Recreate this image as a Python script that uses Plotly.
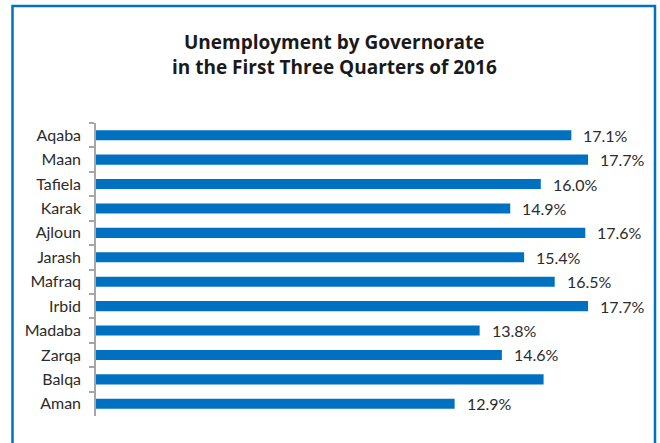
import plotly.graph_objects as go

# Unemployment rate (%) by governorate, first three quarters of 2016
governorates = ["Aqaba", "Maan", "Tafiela", "Karak", "Ajloun", "Jarash",
                "Mafraq", "Irbid", "Madaba", "Zarqa", "Balqa", "Aman"]
rates = [17.1, 17.7, 16.0, 14.9, 17.6, 15.4, 16.5, 17.7, 13.8, 14.6, 16.1, 12.9]
# Balqa carries no value label
labels = ["17.1%", "17.7%", "16.0%", "14.9%", "17.6%", "15.4%",
          "16.5%", "17.7%", "13.8%", "14.6%", "", "12.9%"]

BLUE = "#0070C0"
TEXT = "#2B2B2B"
FONT = "Lato"
TITLE_FONT = "Open Sans"

W, H = 660, 443
ML, MR, MT, MB = 96, 8, 123, 27
pw, ph = W - ML - MR, H - MT - MB

fig = go.Figure()
fig.add_trace(go.Bar(
    x=rates, y=governorates, orientation="h",
    marker=dict(color=BLUE, line=dict(width=0)),
    hoverinfo="x+y",
))

for g, v, t in zip(governorates, rates, labels):
    if t:
        fig.add_annotation(x=v, y=g, text=t, showarrow=False,
                           xanchor="left", yanchor="middle", xshift=10,
                           font=dict(family=FONT, size=16, color=TEXT))

# two-line bold title
fig.add_annotation(xref="paper", yref="paper",
                   x=(334 - ML) / pw, y=(H - MB - 42) / ph,
                   text="<b>Unemployment by Governorate</b>", showarrow=False,
                   xanchor="center", yanchor="middle",
                   font=dict(family=TITLE_FONT, size=19, color="#1A1A1A"))
fig.add_annotation(xref="paper", yref="paper",
                   x=(334 - ML) / pw, y=(H - MB - 67) / ph,
                   text="<b>in the First Three Quarters of 2016</b>", showarrow=False,
                   xanchor="center", yanchor="middle",
                   font=dict(family=TITLE_FONT, size=19, color="#1A1A1A"))

# blue frame around the chart
fig.add_shape(type="rect", xref="paper", yref="paper",
              x0=(12.5 - ML) / pw, x1=(655 - ML) / pw,
              y0=(H - MB - 460) / ph, y1=(H - MB - 6) / ph,
              line=dict(color=BLUE, width=2.5), fillcolor="rgba(0,0,0,0)",
              layer="below")

fig.update_layout(
    width=W, height=H,
    margin=dict(l=ML, r=MR, t=MT, b=MB, pad=0),
    paper_bgcolor="white", plot_bgcolor="white",
    showlegend=False,
    bargap=0.59,
    xaxis=dict(range=[0, pw / 27.8], visible=False, fixedrange=True),
    yaxis=dict(autorange="reversed", showline=True, linecolor="#A6A6A6",
               linewidth=1.5, ticks="outside", tickson="boundaries",
               ticklen=5, tickcolor="#A6A6A6", tickwidth=1.5,
               showgrid=False, ticklabelstandoff=10,
               tickfont=dict(family=FONT, size=16, color=TEXT)),
)

fig.write_html("out.html")
